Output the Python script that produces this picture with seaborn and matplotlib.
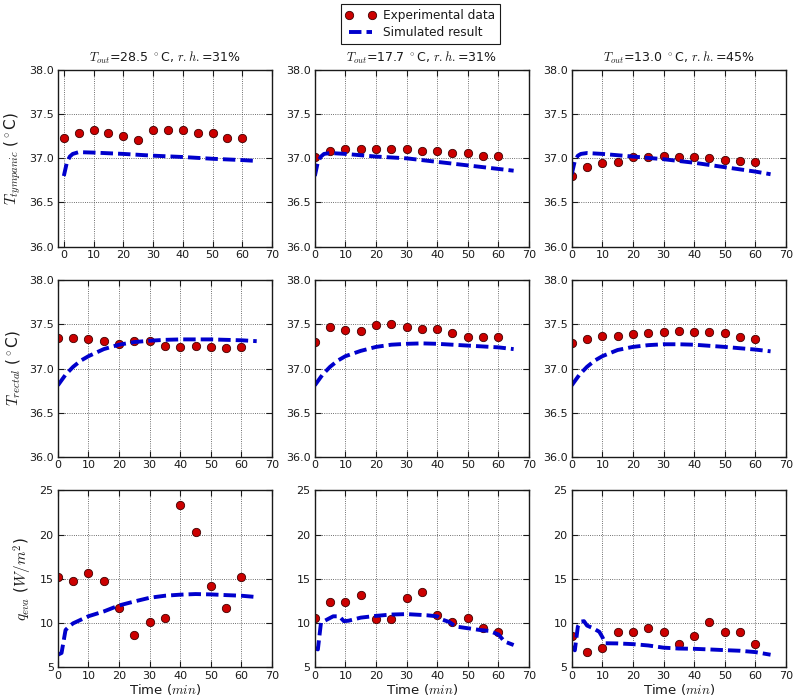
import numpy as np
import pandas as pd
import matplotlib
matplotlib.use("Agg")
import matplotlib.pyplot as plt
import seaborn as sns

# measured points every 5 min
t_exp = [0, 5, 10, 15, 20, 25, 30, 35, 40, 45, 50, 55, 60]

tymp_exp_28 = [37.23, 37.29, 37.32, 37.29, 37.25, 37.21, 37.32, 37.32, 37.32, 37.29, 37.29, 37.23, 37.225]
tymp_exp_17 = [37.02, 37.08, 37.105, 37.11, 37.11, 37.11, 37.11, 37.085, 37.08, 37.055, 37.055, 37.03, 37.03]
tymp_exp_13 = [36.80, 36.905, 36.95, 36.955, 37.015, 37.02, 37.03, 37.02, 37.02, 37.005, 36.98, 36.975, 36.955]

rect_exp_28 = [37.345, 37.345, 37.335, 37.31, 37.28, 37.31, 37.31, 37.255, 37.24, 37.25, 37.245, 37.23, 37.24]
rect_exp_17 = [37.30, 37.465, 37.44, 37.43, 37.495, 37.50, 37.47, 37.45, 37.45, 37.40, 37.36, 37.36, 37.36]
rect_exp_13 = [37.29, 37.34, 37.37, 37.37, 37.39, 37.40, 37.41, 37.425, 37.41, 37.41, 37.40, 37.36, 37.34]

qeva_exp_28 = [15.2, 14.7, 15.7, 14.7, 11.65, 8.6, 10.1, 10.6, 23.3, 20.25, 14.15, 11.65, 15.2]
qeva_exp_17 = [10.55, 12.4, 12.4, 13.15, 10.5, 10.4, 12.8, 13.5, 10.9, 10.15, 10.55, 9.4, 9.0]
qeva_exp_13 = [8.5, 6.7, 7.2, 8.95, 8.95, 9.4, 8.95, 7.6, 8.5, 10.1, 8.95, 8.95, 7.6]

# simulated curves
t_sim_tymp = [0, 1, 2, 3, 5, 10, 20, 30, 40, 50, 60, 65]
tymp_sim_28 = [36.80, 36.95, 37.02, 37.05, 37.07, 37.065, 37.05, 37.03, 37.015, 36.995, 36.98, 36.97]
tymp_sim_17 = [36.80, 36.96, 37.02, 37.05, 37.06, 37.05, 37.02, 37.00, 36.96, 36.92, 36.88, 36.86]
tymp_sim_13 = [36.82, 36.97, 37.03, 37.05, 37.06, 37.05, 37.02, 36.99, 36.95, 36.90, 36.85, 36.82]

t_sim_rect = [0, 2.5, 5, 7.5, 10, 15, 20, 25, 30, 35, 40, 50, 60, 65]
rect_sim_28 = [36.81, 36.93, 37.02, 37.09, 37.14, 37.22, 37.27, 37.30, 37.315, 37.325, 37.33, 37.33, 37.32, 37.31]
rect_sim_17 = [36.81, 36.93, 37.02, 37.09, 37.14, 37.20, 37.245, 37.27, 37.28, 37.285, 37.28, 37.26, 37.24, 37.22]
rect_sim_13 = [36.81, 36.93, 37.02, 37.09, 37.14, 37.21, 37.245, 37.265, 37.275, 37.275, 37.27, 37.245, 37.215, 37.195]

t_sim_q28 = [0, 1.2, 2.5, 4, 5, 10, 15, 20, 25, 30, 35, 40, 45, 50, 55, 60, 65]
qeva_sim_28 = [6.4, 6.6, 9.2, 9.7, 9.96, 10.76, 11.3, 11.98, 12.43, 12.85, 13.08, 13.2, 13.27, 13.23, 13.15, 13.08, 12.93]
t_sim_q17 = [0, 1, 2, 3, 6, 8, 9.5, 11, 15, 20, 25, 30, 36.6, 40, 41.5, 44, 46, 50, 54, 57, 60, 62, 65]
qeva_sim_17 = [7.15, 7.0, 10.0, 10.2, 10.75, 10.75, 10.2, 10.25, 10.6, 10.8, 10.95, 11.0, 10.87, 10.75, 10.4, 10.1, 9.6, 9.4, 9.2, 9.1, 8.7, 7.9, 7.5]
t_sim_q13 = [0, 1, 2, 3, 4, 5, 7, 9, 10, 11, 15, 20, 25, 30, 35, 40, 45, 50, 55, 60, 65]
qeva_sim_13 = [7.3, 6.9, 9.6, 10.15, 10.2, 9.7, 9.4, 9.0, 8.4, 7.7, 7.68, 7.6, 7.45, 7.2, 7.1, 7.07, 7.0, 6.92, 6.85, 6.7, 6.4]

col_titles = [r"$T_{out}$=28.5 $^\circ$C, $r.h.$=31%",
              r"$T_{out}$=17.7 $^\circ$C, $r.h.$=31%",
              r"$T_{out}$=13.0 $^\circ$C, $r.h.$=45%"]
row_labels = [r"$T_{tympanic}$ ($^\circ$C)", r"$T_{rectal}$ ($^\circ$C)", r"$q_{eva}$ ($W/m^2$)"]

exp_rows = [[tymp_exp_28, tymp_exp_17, tymp_exp_13],
            [rect_exp_28, rect_exp_17, rect_exp_13],
            [qeva_exp_28, qeva_exp_17, qeva_exp_13]]
sim_rows = [[(t_sim_tymp, tymp_sim_28), (t_sim_tymp, tymp_sim_17), (t_sim_tymp, tymp_sim_13)],
            [(t_sim_rect, rect_sim_28), (t_sim_rect, rect_sim_17), (t_sim_rect, rect_sim_13)],
            [(t_sim_q28, qeva_sim_28), (t_sim_q17, qeva_sim_17), (t_sim_q13, qeva_sim_13)]]

sns.set_theme(style="whitegrid", rc={
    "grid.linestyle": ":", "grid.color": "0.25", "grid.linewidth": 0.6,
    "axes.edgecolor": "k", "axes.linewidth": 1.0,
    "xtick.direction": "in", "ytick.direction": "in",
    "xtick.top": True, "ytick.right": True,
    "xtick.bottom": True, "ytick.left": True,
    "xtick.major.size": 4, "ytick.major.size": 4,
    "xtick.major.width": 0.8, "ytick.major.width": 0.8,
    "xtick.major.pad": 2.5, "ytick.major.pad": 3,
    "xtick.color": "k", "ytick.color": "k", "text.color": "k", "axes.labelcolor": "k",
    "xtick.labelsize": 8, "ytick.labelsize": 8,
    "mathtext.fontset": "cm",
})
plt.rcParams["font.family"] = ["DejaVu Sans"]

fig, axes = plt.subplots(3, 3, figsize=(7.93, 7.0), dpi=100)
fig.subplots_adjust(left=0.073, right=0.991, top=0.9, bottom=0.047, wspace=0.2, hspace=0.19)

for r in range(3):
    for c in range(3):
        ax = axes[r, c]
        df_exp = pd.DataFrame({"t": t_exp, "v": exp_rows[r][c]})
        ts, vs = sim_rows[r][c]
        df_sim = pd.DataFrame({"t": ts, "v": vs})
        sns.lineplot(data=df_exp, x="t", y="v", ax=ax, linestyle="", marker="o",
                     markersize=6, color="#cc0000", markeredgecolor="#400000",
                     markeredgewidth=0.6, label="Experimental data")
        sns.lineplot(data=df_sim, x="t", y="v", ax=ax, color="#0000cc", linestyle="--",
                     linewidth=2.8, label="Simulated result")
        ax.lines[-1].set_dashes((3.2, 1.3))
        ax.get_legend().remove()
        ax.set_xlim(-2 if (r == 0 and c == 0) else 0, 70)
        ax.set_xticks(range(0, 71, 10))
        if r < 2:
            ax.set_ylim(36.0, 38.0)
            ax.set_yticks([36.0, 36.5, 37.0, 37.5, 38.0])
            ax.yaxis.set_major_formatter(matplotlib.ticker.FormatStrFormatter("%.1f"))
        else:
            ax.set_ylim(5, 25)
            ax.set_yticks([5, 10, 15, 20, 25])
        ax.set_xlabel("Time ($min$)" if r == 2 else "", fontsize=9.5, labelpad=1)
        ax.set_ylabel(row_labels[r] if c == 0 else "", fontsize=11)
        if r == 0:
            ax.set_title(col_titles[c], fontsize=9)
        for s in ax.spines.values():
            s.set_visible(True)
            s.set_color("k")

handles, labels = axes[0, 0].get_legend_handles_labels()
leg = fig.legend(handles, labels, loc="upper center", bbox_to_anchor=(0.53, 1.003),
                 numpoints=2, fontsize=8.7, frameon=True, fancybox=False,
                 edgecolor="k", framealpha=1, handlelength=2.5,
                 labelspacing=0.35, borderpad=0.4, handletextpad=0.6)
leg.get_frame().set_linewidth(0.8)

fig.savefig("out.png", dpi=100)
